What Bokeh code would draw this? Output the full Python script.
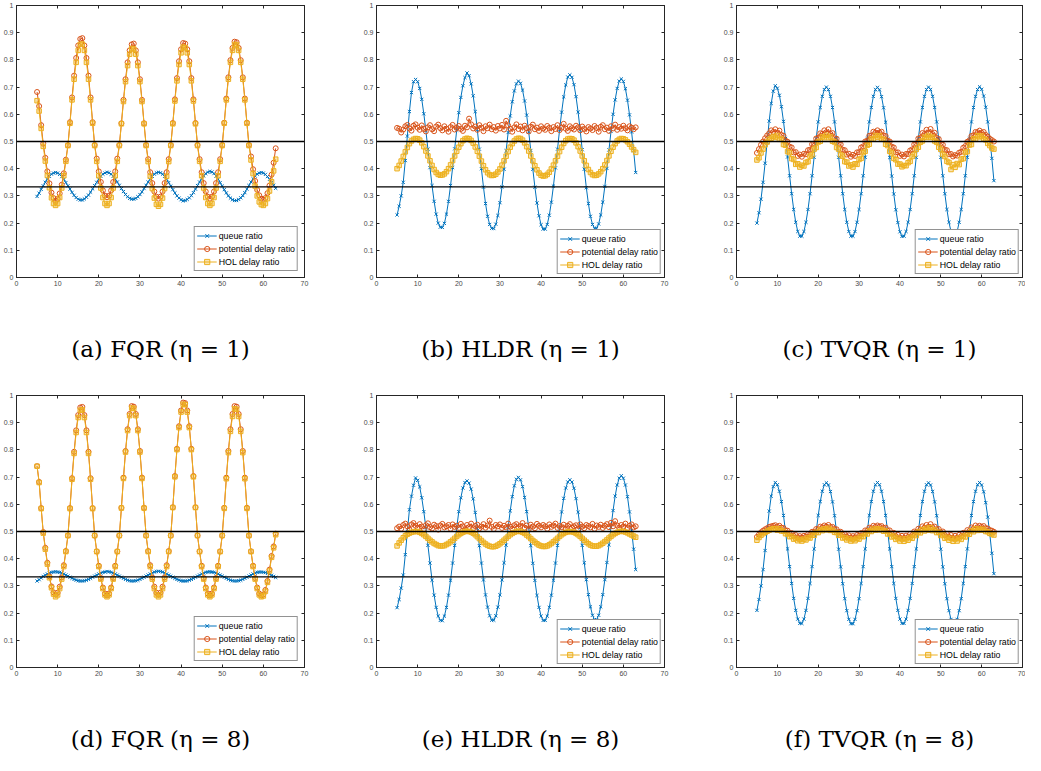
from bokeh.plotting import figure
from bokeh.models import Range1d, FixedTicker, LinearAxis, Span, Legend, LegendItem
from bokeh.layouts import row, column
from bokeh.embed import file_html
from bokeh.resources import INLINE

# ---------------- data ----------------
T = [5.0, 5.5, 6.0, 6.5, 7.0, 7.5, 8.0, 8.5, 9.0, 9.5,
     10.0, 10.5, 11.0, 11.5, 12.0, 12.5, 13.0, 13.5, 14.0, 14.5,
     15.0, 15.5, 16.0, 16.5, 17.0, 17.5, 18.0, 18.5, 19.0, 19.5,
     20.0, 20.5, 21.0, 21.5, 22.0, 22.5, 23.0, 23.5, 24.0, 24.5,
     25.0, 25.5, 26.0, 26.5, 27.0, 27.5, 28.0, 28.5, 29.0, 29.5,
     30.0, 30.5, 31.0, 31.5, 32.0, 32.5, 33.0, 33.5, 34.0, 34.5,
     35.0, 35.5, 36.0, 36.5, 37.0, 37.5, 38.0, 38.5, 39.0, 39.5,
     40.0, 40.5, 41.0, 41.5, 42.0, 42.5, 43.0, 43.5, 44.0, 44.5,
     45.0, 45.5, 46.0, 46.5, 47.0, 47.5, 48.0, 48.5, 49.0, 49.5,
     50.0, 50.5, 51.0, 51.5, 52.0, 52.5, 53.0, 53.5, 54.0, 54.5,
     55.0, 55.5, 56.0, 56.5, 57.0, 57.5, 58.0, 58.5, 59.0, 59.5,
     60.0, 60.5, 61.0, 61.5, 62.0, 62.5, 63.0]

# (a) FQR, eta = 1
queue_fqr_1 = [0.298, 0.310, 0.324, 0.337, 0.350, 0.362, 0.372, 0.380, 0.384,
    0.386, 0.384, 0.379, 0.371, 0.361, 0.349, 0.337, 0.325, 0.313, 0.302, 0.294, 0.288, 0.285, 0.285, 0.289, 0.295, 0.303, 0.314, 0.326, 0.338, 0.350, 0.362, 0.372, 0.380, 0.384,
    0.387, 0.385, 0.380, 0.372, 0.362, 0.351, 0.339, 0.327, 0.316, 0.305, 0.297, 0.291, 0.288, 0.288, 0.291, 0.297, 0.305, 0.315, 0.327, 0.339, 0.351, 0.362, 0.372, 0.380, 0.385,
    0.387, 0.385, 0.380, 0.372, 0.361, 0.349, 0.336, 0.323, 0.311, 0.300, 0.292, 0.286, 0.282, 0.283, 0.287, 0.293, 0.301, 0.312, 0.325, 0.338, 0.351, 0.363, 0.374, 0.382, 0.387,
    0.390, 0.388, 0.382, 0.373, 0.362, 0.349, 0.336, 0.323, 0.311, 0.300, 0.292, 0.286, 0.283, 0.283, 0.287, 0.293, 0.301, 0.312, 0.325, 0.338, 0.351, 0.363, 0.373, 0.380, 0.384,
    0.386, 0.384, 0.379, 0.371, 0.361, 0.350, 0.339, 0.328]
potential_fqr_1 = [0.682, 0.630, 0.560, 0.492, 0.440, 0.390, 0.346, 0.312, 0.292,
    0.282, 0.289, 0.309, 0.341, 0.383, 0.433, 0.486, 0.571, 0.662, 0.742, 0.807, 0.853, 0.877, 0.880, 0.853, 0.807, 0.742, 0.662, 0.571, 0.487, 0.437, 0.390, 0.351, 0.320, 0.301,
    0.295, 0.301, 0.320, 0.351, 0.390, 0.437, 0.487, 0.567, 0.653, 0.729, 0.791, 0.835, 0.857, 0.860, 0.835, 0.791, 0.729, 0.653, 0.567, 0.487, 0.435, 0.387, 0.347, 0.316, 0.297,
    0.290, 0.297, 0.316, 0.347, 0.387, 0.435, 0.487, 0.568, 0.655, 0.733, 0.795, 0.839, 0.862, 0.860, 0.839, 0.795, 0.733, 0.655, 0.568, 0.487, 0.435, 0.387, 0.347, 0.316, 0.297,
    0.290, 0.297, 0.316, 0.347, 0.387, 0.435, 0.487, 0.569, 0.658, 0.736, 0.799, 0.844, 0.867, 0.865, 0.844, 0.799, 0.736, 0.658, 0.569, 0.487, 0.445, 0.398, 0.355, 0.322, 0.302,
    0.290, 0.286, 0.292, 0.310, 0.338, 0.378, 0.422, 0.475]
hol_fqr_1 = [0.650, 0.612, 0.548, 0.482, 0.428, 0.375, 0.330, 0.293, 0.272,
    0.265, 0.272, 0.294, 0.329, 0.374, 0.427, 0.485, 0.567, 0.653, 0.729, 0.791, 0.835, 0.857, 0.858, 0.835, 0.791, 0.729, 0.653, 0.567, 0.485, 0.427, 0.374, 0.329, 0.294, 0.272,
    0.265, 0.272, 0.294, 0.329, 0.374, 0.427, 0.485, 0.565, 0.647, 0.720, 0.779, 0.821, 0.842, 0.840, 0.821, 0.779, 0.720, 0.647, 0.565, 0.485, 0.426, 0.372, 0.327, 0.292, 0.269,
    0.262, 0.269, 0.292, 0.327, 0.372, 0.426, 0.485, 0.565, 0.649, 0.723, 0.783, 0.826, 0.847, 0.845, 0.826, 0.783, 0.723, 0.649, 0.565, 0.485, 0.427, 0.374, 0.329, 0.294, 0.272,
    0.265, 0.272, 0.294, 0.329, 0.374, 0.427, 0.485, 0.567, 0.653, 0.729, 0.791, 0.835, 0.857, 0.855, 0.835, 0.791, 0.729, 0.653, 0.567, 0.485, 0.432, 0.382, 0.336, 0.300, 0.278,
    0.268, 0.265, 0.272, 0.290, 0.318, 0.352, 0.392, 0.435]

# (b) HLDR, eta = 1
queue_hldr_1 = [0.230, 0.262, 0.300, 0.350, 0.430, 0.520, 0.610, 0.680, 0.720,
    0.728, 0.720, 0.695, 0.655, 0.602, 0.540, 0.472, 0.404, 0.338, 0.280, 0.233, 0.200, 0.185, 0.184, 0.199, 0.233, 0.280, 0.338, 0.404, 0.473, 0.542, 0.606, 0.662, 0.705, 0.735,
    0.752, 0.742, 0.712, 0.668, 0.610, 0.544, 0.472, 0.400, 0.332, 0.272, 0.225, 0.195, 0.181, 0.180, 0.196, 0.228, 0.275, 0.333, 0.398, 0.466, 0.533, 0.594, 0.646, 0.686, 0.712,
    0.722, 0.714, 0.689, 0.649, 0.597, 0.535, 0.467, 0.398, 0.332, 0.274, 0.227, 0.194, 0.178, 0.178, 0.195, 0.229, 0.277, 0.336, 0.403, 0.472, 0.543, 0.608, 0.664, 0.708, 0.737,
    0.745, 0.736, 0.709, 0.665, 0.608, 0.542, 0.470, 0.398, 0.330, 0.272, 0.225, 0.195, 0.181, 0.181, 0.197, 0.230, 0.277, 0.335, 0.401, 0.469, 0.537, 0.600, 0.653, 0.695, 0.722,
    0.730, 0.721, 0.694, 0.652, 0.598, 0.535, 0.466, 0.386]
potential_hldr_1 = [0.550, 0.547, 0.533, 0.544, 0.556, 0.561, 0.548, 0.540, 0.558, 0.563,
    0.551, 0.543, 0.559, 0.546, 0.537, 0.552, 0.560, 0.545, 0.538, 0.555,
    0.562, 0.549, 0.541, 0.556, 0.547, 0.536, 0.553, 0.561, 0.544, 0.550,
    0.557, 0.546, 0.539, 0.558, 0.552, 0.584, 0.563, 0.548, 0.555, 0.543,
    0.560, 0.551, 0.538, 0.556, 0.549, 0.562, 0.545, 0.553, 0.540, 0.557,
    0.548, 0.561, 0.544, 0.576, 0.559, 0.547, 0.536, 0.552, 0.563, 0.546,
    0.555, 0.541, 0.558, 0.549, 0.537, 0.554, 0.562, 0.545, 0.551, 0.539,
    0.556, 0.548, 0.543, 0.557, 0.550, 0.538, 0.553, 0.546, 0.560, 0.542,
    0.551, 0.565, 0.547, 0.539, 0.556, 0.549, 0.544, 0.558, 0.552, 0.541,
    0.555, 0.546, 0.537, 0.553, 0.548, 0.542, 0.557, 0.550, 0.536, 0.554,
    0.560, 0.545, 0.551, 0.539, 0.556, 0.548, 0.562, 0.543, 0.553, 0.547,
    0.558, 0.549, 0.541, 0.556, 0.551, 0.545, 0.552]
hol_hldr_1 = [0.400, 0.412, 0.428, 0.445, 0.462, 0.478, 0.492, 0.502, 0.508,
    0.511, 0.510, 0.505, 0.495, 0.481, 0.465, 0.447, 0.429, 0.412, 0.397, 0.386, 0.379, 0.376, 0.377, 0.381, 0.389, 0.400, 0.414, 0.430, 0.447, 0.464, 0.479, 0.492, 0.503, 0.509,
    0.512, 0.510, 0.504, 0.494, 0.480, 0.464, 0.446, 0.428, 0.411, 0.396, 0.385, 0.378, 0.375, 0.376, 0.380, 0.388, 0.399, 0.413, 0.429, 0.446, 0.463, 0.479, 0.492, 0.502, 0.509,
    0.512, 0.511, 0.505, 0.495, 0.481, 0.465, 0.447, 0.429, 0.411, 0.396, 0.384, 0.376, 0.373, 0.374, 0.379, 0.387, 0.399, 0.413, 0.429, 0.446, 0.463, 0.479, 0.493, 0.503, 0.509,
    0.511, 0.510, 0.505, 0.495, 0.481, 0.465, 0.447, 0.429, 0.412, 0.397, 0.386, 0.378, 0.375, 0.376, 0.381, 0.389, 0.400, 0.414, 0.430, 0.447, 0.464, 0.479, 0.492, 0.502, 0.508,
    0.511, 0.510, 0.506, 0.499, 0.490, 0.480, 0.470, 0.460]

# (c) TVQR, eta = 1
queue_tvqr_1 = [0.200, 0.238, 0.288, 0.350, 0.420, 0.498, 0.575, 0.640, 0.685,
    0.705, 0.696, 0.670, 0.628, 0.574, 0.511, 0.443, 0.374, 0.308, 0.250, 0.203, 0.169, 0.152, 0.152, 0.169, 0.203, 0.250, 0.308, 0.374, 0.442, 0.510, 0.572, 0.625, 0.666, 0.691,
    0.700, 0.691, 0.666, 0.625, 0.572, 0.510, 0.442, 0.374, 0.308, 0.250, 0.203, 0.169, 0.152, 0.152, 0.169, 0.203, 0.250, 0.308, 0.374, 0.442, 0.510, 0.572, 0.625, 0.666, 0.691,
    0.699, 0.690, 0.665, 0.624, 0.571, 0.509, 0.441, 0.373, 0.307, 0.249, 0.202, 0.168, 0.151, 0.152, 0.169, 0.203, 0.250, 0.308, 0.374, 0.442, 0.510, 0.572, 0.625, 0.666, 0.691,
    0.700, 0.691, 0.666, 0.625, 0.572, 0.510, 0.442, 0.374, 0.308, 0.250, 0.203, 0.169, 0.152, 0.152, 0.169, 0.203, 0.250, 0.308, 0.374, 0.442, 0.510, 0.572, 0.625, 0.666, 0.691,
    0.701, 0.692, 0.667, 0.626, 0.572, 0.508, 0.438, 0.356]
potential_tvqr_1 = [0.458, 0.472, 0.488, 0.500, 0.512, 0.522, 0.530, 0.541, 0.535,
    0.545, 0.532, 0.540, 0.524, 0.521, 0.503, 0.499, 0.481, 0.478, 0.460, 0.461, 0.447, 0.452, 0.444, 0.455, 0.453, 0.468, 0.470, 0.490, 0.493, 0.511, 0.514, 0.530, 0.528, 0.541,
    0.534, 0.545, 0.528, 0.531, 0.512, 0.510, 0.492, 0.489, 0.470, 0.468, 0.452, 0.455, 0.444, 0.451, 0.447, 0.460, 0.461, 0.478, 0.482, 0.500, 0.503, 0.521, 0.522, 0.536, 0.533,
    0.541, 0.533, 0.536, 0.522, 0.520, 0.503, 0.500, 0.481, 0.478, 0.460, 0.460, 0.447, 0.452, 0.445, 0.454, 0.454, 0.467, 0.471, 0.489, 0.493, 0.511, 0.513, 0.531, 0.527, 0.543,
    0.533, 0.546, 0.527, 0.532, 0.513, 0.509, 0.493, 0.488, 0.470, 0.468, 0.453, 0.454, 0.445, 0.450, 0.448, 0.459, 0.462, 0.477, 0.483, 0.499, 0.504, 0.520, 0.523, 0.535, 0.534,
    0.540, 0.532, 0.535, 0.524, 0.518, 0.510, 0.505, 0.500]
hol_tvqr_1 = [0.432, 0.440, 0.458, 0.472, 0.488, 0.498, 0.508, 0.512, 0.519,
    0.515, 0.522, 0.508, 0.509, 0.489, 0.486, 0.463, 0.459, 0.437, 0.434, 0.416, 0.418, 0.406, 0.413, 0.410, 0.423, 0.426, 0.446, 0.451, 0.472, 0.478, 0.498, 0.501, 0.517, 0.514,
    0.523, 0.514, 0.517, 0.501, 0.498, 0.478, 0.472, 0.451, 0.446, 0.426, 0.424, 0.410, 0.414, 0.406, 0.418, 0.416, 0.434, 0.438, 0.459, 0.464, 0.486, 0.490, 0.509, 0.509, 0.522,
    0.516, 0.521, 0.509, 0.508, 0.490, 0.485, 0.464, 0.458, 0.438, 0.433, 0.417, 0.417, 0.407, 0.412, 0.411, 0.422, 0.427, 0.445, 0.452, 0.471, 0.479, 0.497, 0.502, 0.516, 0.515,
    0.522, 0.515, 0.516, 0.502, 0.497, 0.479, 0.471, 0.452, 0.445, 0.427, 0.423, 0.397, 0.415, 0.405, 0.419, 0.415, 0.435, 0.437, 0.460, 0.463, 0.487, 0.489, 0.510, 0.508, 0.521,
    0.517, 0.520, 0.510, 0.506, 0.493, 0.485, 0.476, 0.472]

# (d) FQR, eta = 8
queue_fqr_8 = [0.318, 0.323, 0.329, 0.335, 0.340, 0.344, 0.347, 0.350, 0.351,
    0.352, 0.351, 0.350, 0.347, 0.344, 0.340, 0.336, 0.332, 0.328, 0.324, 0.321, 0.319, 0.318, 0.318, 0.319, 0.321, 0.324, 0.328, 0.332, 0.336, 0.340, 0.344, 0.347, 0.350, 0.351,
    0.353, 0.352, 0.350, 0.347, 0.344, 0.340, 0.336, 0.332, 0.328, 0.324, 0.321, 0.319, 0.318, 0.318, 0.319, 0.321, 0.324, 0.328, 0.332, 0.336, 0.340, 0.344, 0.348, 0.351, 0.353,
    0.354, 0.353, 0.351, 0.348, 0.344, 0.340, 0.336, 0.332, 0.328, 0.324, 0.321, 0.319, 0.318, 0.318, 0.319, 0.321, 0.324, 0.328, 0.332, 0.336, 0.340, 0.344, 0.347, 0.350, 0.351,
    0.352, 0.351, 0.350, 0.347, 0.344, 0.340, 0.336, 0.332, 0.328, 0.324, 0.321, 0.319, 0.318, 0.318, 0.319, 0.321, 0.324, 0.328, 0.332, 0.336, 0.340, 0.344, 0.347, 0.350, 0.351,
    0.351, 0.350, 0.349, 0.346, 0.343, 0.339, 0.335, 0.331]
potential_fqr_8 = [0.740, 0.682, 0.586, 0.498, 0.440, 0.385, 0.335, 0.298, 0.276,
    0.268, 0.275, 0.297, 0.331, 0.376, 0.428, 0.485, 0.586, 0.696, 0.793, 0.872, 0.928, 0.956, 0.958, 0.928, 0.872, 0.793, 0.696, 0.586, 0.485, 0.427, 0.374, 0.329, 0.294, 0.272,
    0.265, 0.272, 0.294, 0.329, 0.374, 0.427, 0.485, 0.587, 0.698, 0.796, 0.876, 0.932, 0.961, 0.959, 0.932, 0.876, 0.796, 0.698, 0.587, 0.485, 0.428, 0.376, 0.331, 0.297, 0.275,
    0.268, 0.275, 0.297, 0.331, 0.376, 0.428, 0.485, 0.589, 0.704, 0.804, 0.887, 0.945, 0.974, 0.972, 0.945, 0.887, 0.804, 0.704, 0.589, 0.485, 0.427, 0.374, 0.329, 0.294, 0.272,
    0.265, 0.272, 0.294, 0.329, 0.374, 0.427, 0.485, 0.587, 0.698, 0.796, 0.876, 0.932, 0.961, 0.959, 0.932, 0.876, 0.796, 0.698, 0.587, 0.485, 0.427, 0.374, 0.329, 0.294, 0.272,
    0.265, 0.268, 0.285, 0.318, 0.360, 0.410, 0.445, 0.492]
hol_fqr_8 = [0.740, 0.680, 0.584, 0.494, 0.435, 0.380, 0.330, 0.293, 0.270,
    0.260, 0.267, 0.290, 0.325, 0.371, 0.426, 0.485, 0.584, 0.692, 0.787, 0.864, 0.919, 0.946, 0.948, 0.919, 0.864, 0.787, 0.692, 0.584, 0.485, 0.426, 0.371, 0.325, 0.290, 0.267,
    0.260, 0.267, 0.290, 0.325, 0.371, 0.426, 0.485, 0.586, 0.695, 0.792, 0.871, 0.926, 0.954, 0.952, 0.926, 0.871, 0.792, 0.695, 0.586, 0.485, 0.426, 0.371, 0.325, 0.290, 0.267,
    0.260, 0.267, 0.290, 0.325, 0.371, 0.426, 0.485, 0.588, 0.701, 0.801, 0.882, 0.939, 0.968, 0.966, 0.939, 0.882, 0.801, 0.701, 0.588, 0.485, 0.426, 0.371, 0.325, 0.290, 0.267,
    0.260, 0.267, 0.290, 0.325, 0.371, 0.426, 0.485, 0.585, 0.694, 0.790, 0.868, 0.923, 0.951, 0.949, 0.923, 0.868, 0.790, 0.694, 0.585, 0.485, 0.426, 0.371, 0.325, 0.290, 0.267,
    0.260, 0.263, 0.280, 0.313, 0.355, 0.405, 0.440, 0.488]

# (e) HLDR, eta = 8
queue_hldr_8 = [0.220, 0.250, 0.292, 0.340, 0.415, 0.500, 0.580, 0.630, 0.670,
    0.697, 0.688, 0.664, 0.624, 0.573, 0.514, 0.449, 0.384, 0.321, 0.266, 0.221, 0.189, 0.173, 0.172, 0.189, 0.221, 0.266, 0.321, 0.384, 0.449, 0.514, 0.573, 0.624, 0.660, 0.680,
    0.686, 0.678, 0.656, 0.620, 0.570, 0.512, 0.448, 0.384, 0.322, 0.267, 0.222, 0.190, 0.174, 0.174, 0.190, 0.222, 0.267, 0.322, 0.385, 0.450, 0.515, 0.576, 0.628, 0.668, 0.692,
    0.699, 0.690, 0.665, 0.625, 0.573, 0.513, 0.448, 0.383, 0.320, 0.265, 0.221, 0.189, 0.173, 0.173, 0.189, 0.221, 0.266, 0.321, 0.384, 0.449, 0.513, 0.572, 0.622, 0.660, 0.682,
    0.690, 0.682, 0.659, 0.621, 0.571, 0.513, 0.449, 0.385, 0.323, 0.268, 0.223, 0.192, 0.176, 0.176, 0.192, 0.223, 0.268, 0.323, 0.386, 0.451, 0.516, 0.577, 0.630, 0.671, 0.696,
    0.705, 0.696, 0.671, 0.628, 0.572, 0.505, 0.435, 0.360]
potential_hldr_8 = [0.512, 0.518, 0.510, 0.524, 0.529, 0.519, 0.508, 0.526, 0.531, 0.521,
    0.514, 0.527, 0.518, 0.509, 0.523, 0.530, 0.516, 0.511, 0.525, 0.520,
    0.507, 0.522, 0.528, 0.515, 0.519, 0.524, 0.510, 0.526, 0.517, 0.521,
    0.513, 0.528, 0.519, 0.508, 0.524, 0.516, 0.529, 0.512, 0.520, 0.525,
    0.511, 0.518, 0.527, 0.514, 0.522, 0.540, 0.517, 0.509, 0.524, 0.519,
    0.526, 0.513, 0.521, 0.515, 0.529, 0.518, 0.510, 0.523, 0.527, 0.516,
    0.520, 0.531, 0.514, 0.522, 0.508, 0.525, 0.518, 0.512, 0.528, 0.521,
    0.515, 0.524, 0.519, 0.510, 0.526, 0.517, 0.522, 0.529, 0.513, 0.520,
    0.516, 0.525, 0.511, 0.521, 0.527, 0.514, 0.519, 0.523, 0.509, 0.526,
    0.518, 0.512, 0.524, 0.520, 0.515, 0.528, 0.510, 0.522, 0.517, 0.525,
    0.513, 0.521, 0.527, 0.516, 0.532, 0.519, 0.538, 0.522, 0.514, 0.524,
    0.518, 0.529, 0.513, 0.521, 0.526, 0.515, 0.519]
hol_hldr_8 = [0.447, 0.458, 0.468, 0.477, 0.484, 0.490, 0.494, 0.497, 0.499,
    0.500, 0.500, 0.497, 0.493, 0.488, 0.482, 0.475, 0.468, 0.462, 0.456, 0.452, 0.448, 0.447, 0.447, 0.448, 0.452, 0.456, 0.462, 0.468, 0.475, 0.482, 0.488, 0.493, 0.497, 0.500,
    0.501, 0.500, 0.498, 0.494, 0.488, 0.481, 0.474, 0.467, 0.460, 0.454, 0.449, 0.446, 0.444, 0.444, 0.446, 0.450, 0.455, 0.461, 0.468, 0.475, 0.482, 0.488, 0.493, 0.497, 0.500,
    0.501, 0.500, 0.497, 0.493, 0.487, 0.481, 0.474, 0.467, 0.461, 0.455, 0.450, 0.447, 0.445, 0.445, 0.447, 0.451, 0.456, 0.462, 0.468, 0.475, 0.482, 0.488, 0.493, 0.497, 0.499,
    0.500, 0.499, 0.497, 0.493, 0.488, 0.482, 0.475, 0.468, 0.461, 0.455, 0.450, 0.447, 0.446, 0.446, 0.448, 0.452, 0.457, 0.463, 0.469, 0.476, 0.482, 0.488, 0.493, 0.497, 0.500,
    0.501, 0.500, 0.498, 0.495, 0.491, 0.487, 0.483, 0.479]

# (f) TVQR, eta = 8
queue_tvqr_8 = [0.210, 0.250, 0.300, 0.360, 0.430, 0.505, 0.575, 0.630, 0.665,
    0.680, 0.672, 0.648, 0.610, 0.559, 0.500, 0.436, 0.371, 0.309, 0.254, 0.210, 0.178, 0.162, 0.162, 0.178, 0.210, 0.254, 0.309, 0.371, 0.436, 0.500, 0.559, 0.610, 0.648, 0.672,
    0.679, 0.671, 0.647, 0.609, 0.558, 0.499, 0.435, 0.370, 0.308, 0.253, 0.209, 0.177, 0.161, 0.161, 0.177, 0.209, 0.253, 0.309, 0.371, 0.436, 0.500, 0.559, 0.610, 0.648, 0.672,
    0.680, 0.672, 0.648, 0.610, 0.559, 0.500, 0.436, 0.371, 0.309, 0.254, 0.210, 0.178, 0.162, 0.162, 0.178, 0.210, 0.254, 0.309, 0.371, 0.436, 0.500, 0.559, 0.610, 0.648, 0.672,
    0.679, 0.671, 0.647, 0.609, 0.558, 0.499, 0.435, 0.370, 0.308, 0.253, 0.209, 0.177, 0.161, 0.161, 0.177, 0.209, 0.253, 0.309, 0.371, 0.436, 0.500, 0.559, 0.610, 0.648, 0.672,
    0.680, 0.671, 0.646, 0.606, 0.553, 0.490, 0.420, 0.345]
potential_tvqr_8 = [0.480, 0.489, 0.497, 0.503, 0.508, 0.512, 0.517, 0.519, 0.521,
    0.523, 0.517, 0.521, 0.514, 0.513, 0.504, 0.503, 0.493, 0.494, 0.484, 0.487, 0.478, 0.483, 0.477, 0.484, 0.481, 0.490, 0.488, 0.499, 0.498, 0.509, 0.508, 0.518, 0.515, 0.522,
    0.518, 0.524, 0.516, 0.517, 0.509, 0.508, 0.498, 0.499, 0.488, 0.490, 0.481, 0.486, 0.477, 0.483, 0.478, 0.487, 0.484, 0.494, 0.493, 0.504, 0.503, 0.514, 0.512, 0.521, 0.517,
    0.522, 0.518, 0.520, 0.513, 0.514, 0.503, 0.504, 0.492, 0.495, 0.483, 0.488, 0.477, 0.484, 0.476, 0.485, 0.480, 0.491, 0.487, 0.500, 0.497, 0.510, 0.507, 0.519, 0.514, 0.524,
    0.517, 0.527, 0.515, 0.518, 0.508, 0.509, 0.497, 0.500, 0.487, 0.491, 0.480, 0.487, 0.476, 0.484, 0.477, 0.488, 0.483, 0.495, 0.492, 0.505, 0.502, 0.515, 0.511, 0.522, 0.516,
    0.521, 0.517, 0.520, 0.512, 0.511, 0.505, 0.503, 0.499]
hol_tvqr_8 = [0.468, 0.478, 0.486, 0.492, 0.497, 0.501, 0.505, 0.508, 0.510,
    0.511, 0.505, 0.510, 0.502, 0.501, 0.492, 0.491, 0.481, 0.482, 0.472, 0.475, 0.466, 0.471, 0.465, 0.472, 0.469, 0.478, 0.476, 0.487, 0.486, 0.497, 0.496, 0.506, 0.503, 0.510,
    0.506, 0.512, 0.504, 0.505, 0.497, 0.496, 0.486, 0.487, 0.476, 0.478, 0.469, 0.474, 0.465, 0.471, 0.466, 0.475, 0.472, 0.482, 0.481, 0.492, 0.491, 0.502, 0.500, 0.509, 0.505,
    0.510, 0.506, 0.508, 0.501, 0.502, 0.491, 0.492, 0.480, 0.483, 0.471, 0.476, 0.465, 0.472, 0.464, 0.473, 0.468, 0.479, 0.475, 0.488, 0.485, 0.498, 0.495, 0.507, 0.502, 0.512,
    0.505, 0.514, 0.503, 0.506, 0.496, 0.497, 0.485, 0.488, 0.475, 0.479, 0.468, 0.475, 0.464, 0.472, 0.465, 0.476, 0.471, 0.483, 0.480, 0.493, 0.490, 0.503, 0.499, 0.510, 0.504,
    0.509, 0.505, 0.508, 0.500, 0.499, 0.493, 0.491, 0.487]

SERIES_NAMES = ["queue ratio", "potential delay ratio", "HOL delay ratio"]
CAPTIONS = ["(a) FQR (η = 1)", "(b) HLDR (η = 1)", "(c) TVQR (η = 1)",
            "(d) FQR (η = 8)", "(e) HLDR (η = 8)", "(f) TVQR (η = 8)"]
Y_TICKS = [0, 0.1, 0.2, 0.3, 0.4, 0.5, 0.6, 0.7, 0.8, 0.9, 1]
Y_TICK_LABELS = ["0", "0.1", "0.2", "0.3", "0.4", "0.5", "0.6", "0.7", "0.8", "0.9", "1"]
X_TICKS = [0, 10, 20, 30, 40, 50, 60, 70]
X_TICK_LABELS = ["0", "10", "20", "30", "40", "50", "60", "70"]
REFERENCE_LEVELS = [0.5, 1 / 3]

# ---------------- styling ----------------
COLORS = ["#0072BD", "#D95319", "#EDB120"]
AXIS_COLOR = "#262626"
LABEL_COLOR = "#4a4a4a"


def style_axis(ax, ticks, labels):
    ax.ticker = FixedTicker(ticks=ticks)
    ax.major_label_overrides = dict(zip(ticks, labels))
    ax.axis_line_color = AXIS_COLOR
    ax.axis_line_width = 1
    ax.major_tick_line_color = AXIS_COLOR
    ax.major_tick_in = 3
    ax.major_tick_out = 0
    ax.minor_tick_line_color = None
    ax.major_label_text_font = "Liberation Sans"
    ax.major_label_text_font_size = "7px"
    ax.major_label_text_color = LABEL_COLOR
    ax.major_label_standoff = 3


def mirror_axis(ticks):
    return LinearAxis(ticker=FixedTicker(ticks=ticks),
                      major_label_overrides={t: "" for t in ticks},
                      major_label_text_font_size="0px", major_label_standoff=0,
                      major_tick_in=3, major_tick_out=0, minor_tick_line_color=None,
                      axis_line_color=AXIS_COLOR, major_tick_line_color=AXIS_COLOR)


def make_panel(series, caption, width, height, ml, mr, mb, legend_margin, cap_gap):
    for s in series:
        assert len(s) == len(T), (caption, len(s))
    p = figure(width=width, height=height, x_range=Range1d(0, 70), y_range=Range1d(0, 1),
               output_backend="svg", toolbar_location=None,
               min_border_left=ml, min_border_right=mr, min_border_top=5,
               min_border_bottom=mb, outline_line_color=AXIS_COLOR,
               background_fill_color="white", border_fill_color="white")
    p.xgrid.visible = False
    p.ygrid.visible = False
    style_axis(p.xaxis[0], X_TICKS, X_TICK_LABELS)
    style_axis(p.yaxis[0], Y_TICKS, Y_TICK_LABELS)
    xa = p.xaxis[0]
    xa.axis_label = caption
    xa.axis_label_standoff = cap_gap
    xa.axis_label_text_font = "DejaVu Serif"
    xa.axis_label_text_font_size = "23px"
    xa.axis_label_text_font_style = "normal"
    xa.axis_label_text_color = "black"
    p.add_layout(mirror_axis(Y_TICKS), "right")
    p.add_layout(mirror_axis(X_TICKS), "above")

    items = []
    specs = [("x", 4.5, None, 0.0), ("circle", 5, None, 0.0), ("square", 4.5, COLORS[2], 0.35)]
    for vals, name, color, (marker, size, fill, falpha) in zip(series, SERIES_NAMES, COLORS, specs):
        rl = p.line(T, vals, line_color=color, line_width=1)
        rm = p.scatter(T, vals, marker=marker, size=size, line_color=color, line_width=1,
                       fill_color=fill, fill_alpha=falpha)
        items.append(LegendItem(label=name, renderers=[rl, rm]))

    for lvl in REFERENCE_LEVELS:
        p.add_layout(Span(location=lvl, dimension="width", line_color="black", line_width=1.3))

    legend = Legend(items=items, location="bottom_right", margin=legend_margin, padding=2,
                    spacing=0, label_height=13, glyph_height=13, glyph_width=20,
                    label_standoff=2, label_text_font="Liberation Sans",
                    label_text_font_size="8.8px", label_text_color="black",
                    border_line_color=AXIS_COLOR, border_line_width=1,
                    background_fill_color="white", background_fill_alpha=1.0)
    p.add_layout(legend)
    return p


panels_top = [
    make_panel([queue_fqr_1, potential_fqr_1, hol_fqr_1], CAPTIONS[0], 360, 390, 16, 56, 113, 6, 47),
    make_panel([queue_hldr_1, potential_hldr_1, hol_hldr_1], CAPTIONS[1], 360, 390, 16, 56, 113, 3, 47),
    make_panel([queue_tvqr_1, potential_tvqr_1, hol_tvqr_1], CAPTIONS[2], 305, 390, 16, 3, 113, 3, 47),
]
panels_bottom = [
    make_panel([queue_fqr_8, potential_fqr_8, hol_fqr_8], CAPTIONS[3], 360, 365, 16, 56, 88, 6, 47),
    make_panel([queue_hldr_8, potential_hldr_8, hol_hldr_8], CAPTIONS[4], 360, 365, 16, 56, 88, 3, 47),
    make_panel([queue_tvqr_8, potential_tvqr_8, hol_tvqr_8], CAPTIONS[5], 305, 365, 16, 3, 88, 3, 47),
]

layout = column(row(*panels_top), row(*panels_bottom))
open("out.html", "w").write(file_html(layout, INLINE, title="Queue and delay ratios"))
